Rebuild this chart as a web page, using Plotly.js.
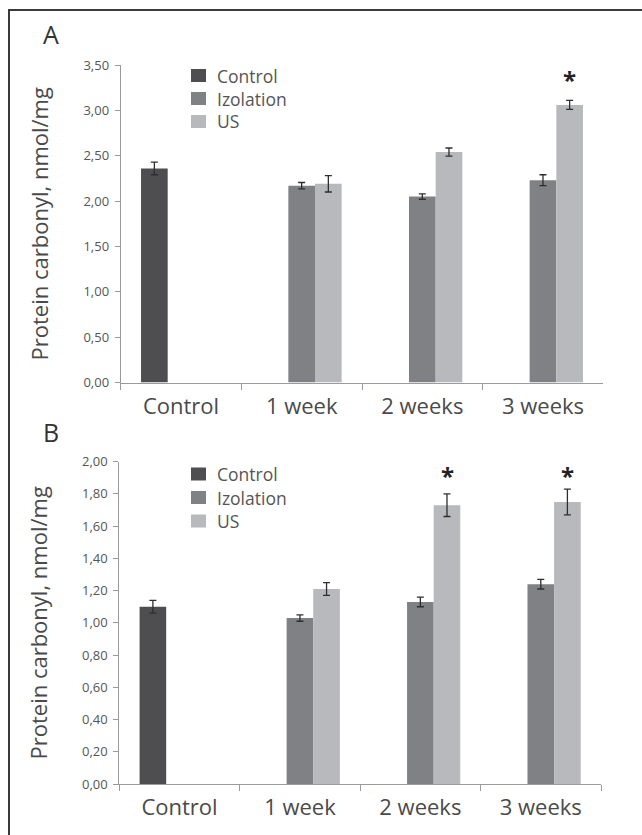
<!DOCTYPE html>
<html>
<head>
<meta charset="utf-8">
<script src="https://cdn.plot.ly/plotly-3.0.1.min.js"></script>
<style>
  html, body { margin: 0; padding: 0; background: #fff; }
  #wrap { position: relative; width: 642px; height: 835px; }
  #frame { position: absolute; left: 8px; top: 9px; width: 634px; height: 826px;
           border-left: 2px solid #3a3a3a; border-top: 2px solid #3a3a3a; box-sizing: border-box; pointer-events: none; }
  #chart { position: absolute; left: 0; top: 0; width: 642px; height: 835px; }
</style>
</head>
<body>
<div id="wrap">
  <div id="chart"></div>
  <div id="frame"></div>
</div>
<script>
// ---- data ----
var categories = ['Control', '1 week', '2 weeks', '3 weeks'];
var seriesNames = ['Control', 'Izolation', 'US'];

// Panel A
var controlA    = [2.36, null, null, null];
var controlErrA = [0.07, null, null, null];
var izolA       = [null, 2.17, 2.05, 2.23];
var izolErrA    = [null, 0.035, 0.03, 0.06];
var usA         = [null, 2.19, 2.54, 3.06];
var usErrA      = [null, 0.09, 0.045, 0.05];
var starsA      = ['', '', '', '*'];

// Panel B
var controlB    = [1.10, null, null, null];
var controlErrB = [0.04, null, null, null];
var izolB       = [null, 1.03, 1.13, 1.24];
var izolErrB    = [null, 0.02, 0.03, 0.03];
var usB         = [null, 1.21, 1.73, 1.75];
var usErrB      = [null, 0.04, 0.07, 0.08];
var starsB      = ['', '', '*', '*'];

var yTickValsA = [0, 0.5, 1, 1.5, 2, 2.5, 3, 3.5];
var yTickValsB = [0, 0.2, 0.4, 0.6, 0.8, 1.0, 1.2, 1.4, 1.6, 1.8, 2.0];

// ---- styling ----
var colors = ['#4e4e50', '#808184', '#b8b9bc'];
var FONT = 'Open Sans, Noto Sans, sans-serif';
var W = 642, H = 835;
var mL = 119, mR = 38;
var plotW = W - mL - mR;
var bargap = 0.337;
function px2x(px) { return (px - mL) / plotW; }
function px2y(py) { return 1 - py / H; }

function bar(name, y, err, color, xa, ya) {
  return {
    type: 'bar', name: name, x: categories, y: y,
    xaxis: xa, yaxis: ya, showlegend: false,
    marker: { color: color, line: { width: 0 } },
    error_y: { type: 'data', array: err, visible: true, color: '#2e2e2e', thickness: 1.3, width: 3.5 },
    hoverinfo: 'skip'
  };
}

var data = [
  bar(seriesNames[0], controlA, controlErrA, colors[0], 'x', 'y'),
  bar(seriesNames[1], izolA, izolErrA, colors[1], 'x', 'y'),
  bar(seriesNames[2], usA, usErrA, colors[2], 'x', 'y'),
  bar(seriesNames[0], controlB, controlErrB, colors[0], 'x2', 'y2'),
  bar(seriesNames[1], izolB, izolErrB, colors[1], 'x2', 'y2'),
  bar(seriesNames[2], usB, usErrB, colors[2], 'x2', 'y2')
];

var domXA = [px2x(120.7), px2x(603.3)];
var domXB = [px2x(119.3), px2x(601.0)];
var domYA = [px2y(382.5), px2y(65)];
var domYB = [px2y(784), px2y(461.7)];

function xAxis(dom, anchor) {
  return {
    domain: dom, anchor: anchor, type: 'category',
    range: [-0.5, 3.5],
    showline: true, linecolor: '#9a9a9a', linewidth: 1,
    ticks: 'outside', tickson: 'boundaries', ticklen: 6, tickcolor: '#9a9a9a', tickwidth: 1,
    showgrid: false, zeroline: false,
    tickfont: { family: FONT, size: 22, color: '#4a4a4a' },
    ticklabelstandoff: 4
  };
}
function yAxis(dom, anchor, range, tickvals) {
  return {
    domain: dom, anchor: anchor, range: range,
    tickvals: tickvals, tickformat: '.2f',
    showline: true, linecolor: '#9a9a9a', linewidth: 1,
    ticks: 'outside', ticklen: 5, tickcolor: '#9a9a9a', tickwidth: 1,
    showgrid: false, zeroline: false,
    tickfont: { family: FONT, size: 13, color: '#555' },
    ticklabelstandoff: 3,
    title: { text: 'Protein carbonyl, nmol/mg', font: { family: FONT, size: 22, color: '#4a4a4a' }, standoff: 28 }
  };
}

// star annotations above the US bars
var catPx = (domXA[1] - domXA[0]) * plotW / categories.length;
var barPx = catPx * (1 - bargap) / 3;
var annotations = [];
var shapes = [];
function addStars(stars, level, xref, yref) {
  stars.forEach(function (s, i) {
    if (!s) return;
    annotations.push({
      x: categories[i], y: level, xref: xref, yref: yref, text: s, showarrow: false,
      xshift: barPx, yshift: -3, yanchor: 'middle',
      font: { family: FONT, size: 24, color: '#222', weight: 'bold' }
    });
  });
}
addStars(starsA, 3.37, 'x', 'y');
addStars(starsB, 1.93, 'x2', 'y2');

annotations.push({ text: 'A', xref: 'paper', yref: 'paper', x: px2x(51), y: px2y(34),
  showarrow: false, xanchor: 'center', yanchor: 'middle', font: { family: FONT, size: 25, color: '#333' } });
annotations.push({ text: 'B', xref: 'paper', yref: 'paper', x: px2x(51), y: px2y(432),
  showarrow: false, xanchor: 'center', yanchor: 'middle', font: { family: FONT, size: 25, color: '#333' } });

// legends (drawn as key squares + labels)
function addLegend(firstCenterPx, stepPx) {
  seriesNames.forEach(function (n, i) {
    var cy = firstCenterPx + i * stepPx;
    shapes.push({ type: 'rect', xref: 'paper', yref: 'paper',
      x0: px2x(191), x1: px2x(206), y0: px2y(cy - 6.5), y1: px2y(cy + 6.5),
      fillcolor: colors[i], line: { width: 0 } });
    annotations.push({ text: n, xref: 'paper', yref: 'paper', x: px2x(215), y: px2y(cy),
      showarrow: false, xanchor: 'left', yanchor: 'middle',
      font: { family: FONT, size: 17.5, color: '#555' } });
  });
}
addLegend(75.5, 23);
addLegend(474, 23.5);

var layout = {
  width: W, height: H,
  margin: { l: mL, r: mR, t: 0, b: 0, pad: 0 },
  paper_bgcolor: 'rgba(0,0,0,0)', plot_bgcolor: 'rgba(0,0,0,0)',
  separators: ', ',
  showlegend: false,
  barmode: 'group', bargap: bargap, bargroupgap: 0,
  font: { family: FONT, color: '#555' },
  xaxis: xAxis(domXA, 'y'),
  yaxis: yAxis(domYA, 'x', [0, 3.5], yTickValsA),
  xaxis2: xAxis(domXB, 'y2'),
  yaxis2: yAxis(domYB, 'x2', [0, 2], yTickValsB),
  annotations: annotations,
  shapes: shapes
};

Plotly.newPlot('chart', data, layout, { displayModeBar: false, staticPlot: true });
</script>
</body>
</html>
